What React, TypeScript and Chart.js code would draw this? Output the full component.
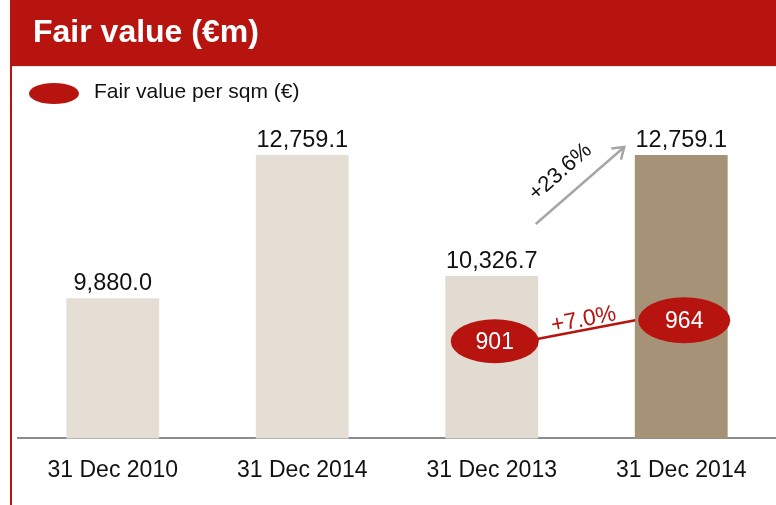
import { useEffect, useRef } from "react";
import { Chart, registerables } from "chart.js";

Chart.register(...registerables);

const categories = ["31 Dec 2010", "31 Dec 2014", "31 Dec 2013", "31 Dec 2014"];
const fairValues = [9880.0, 12759.1, 10326.7, 12759.1];
const valueLabels = ["9,880.0", "12,759.1", "10,326.7", "12,759.1"];
const perSqmValues: (number | null)[] = [null, null, 901, 964];
const barColors = ["#E4DED5", "#E4DED5", "#E2DBD1", "#A69377"];
const titleText = "Fair value (€m)";
const legendText = "Fair value per sqm (€)";
const growthFairValue = "+23.6%";
const growthPerSqm = "+7.0%";

const RED = "#B71410";
const FONT = "'Liberation Sans', Arial, sans-serif";

const decorPlugin = {
  id: "decor",
  beforeDraw(chart: any) {
    const ctx = chart.ctx as CanvasRenderingContext2D;
    ctx.save();
    ctx.fillStyle = "#FFFFFF";
    ctx.fillRect(0, 0, chart.width, chart.height);
    // header band
    ctx.fillStyle = RED;
    ctx.fillRect(10, 0, chart.width - 10, 66);
    ctx.fillStyle = "#E6E6E6";
    ctx.fillRect(12, 66, chart.width - 12, 1);
    // left red rule
    ctx.fillStyle = RED;
    ctx.fillRect(10, 66, 2, chart.height - 66);
    // title
    ctx.fillStyle = "#FFFFFF";
    ctx.font = `bold 32px ${FONT}`;
    ctx.textBaseline = "middle";
    ctx.textAlign = "left";
    ctx.fillText(titleText, 33, 33);
    // legend
    ctx.fillStyle = RED;
    ctx.beginPath();
    ctx.ellipse(54, 93.5, 25, 10.5, 0, 0, Math.PI * 2);
    ctx.fill();
    ctx.fillStyle = "#111111";
    ctx.font = `21px ${FONT}`;
    ctx.fillText(legendText, 94, 92);
    ctx.restore();
  },
  afterDatasetsDraw(chart: any) {
    const ctx = chart.ctx as CanvasRenderingContext2D;
    const bars = chart.getDatasetMeta(0).data;
    const pts = chart.getDatasetMeta(1).data;
    ctx.save();
    // value labels
    ctx.fillStyle = "#111111";
    ctx.font = `23.5px ${FONT}`;
    ctx.textAlign = "center";
    ctx.textBaseline = "alphabetic";
    bars.forEach((b: any, i: number) => {
      ctx.fillText(valueLabels[i], b.x, b.y - 8);
    });

    // grey growth arrow between bar 3 and bar 4
    const b3 = bars[2];
    const b4 = bars[3];
    const sx = b3.x + 44, sy = b3.y - 52;
    const ex = b4.x - 57, ey = b4.y - 8;
    const ang = Math.atan2(ey - sy, ex - sx);
    ctx.strokeStyle = "#A6A6A6";
    ctx.lineWidth = 2.5;
    ctx.lineCap = "butt";
    ctx.beginPath();
    ctx.moveTo(sx, sy);
    ctx.lineTo(ex, ey);
    ctx.stroke();
    ctx.beginPath();
    const ah = 13;
    ctx.moveTo(ex - ah * Math.cos(ang - 0.6), ey - ah * Math.sin(ang - 0.6));
    ctx.lineTo(ex, ey);
    ctx.lineTo(ex - ah * Math.cos(ang + 0.6), ey - ah * Math.sin(ang + 0.6));
    ctx.stroke();
    // arrow label
    const mx = (sx + ex) / 2, my = (sy + ey) / 2;
    const dx = Math.cos(ang), dy = Math.sin(ang);
    const nx = dy, ny = -dx; // up-left normal
    const tx = mx - 6 * dx + 23 * nx;
    const ty = my - 6 * dy + 23 * ny;
    ctx.save();
    ctx.translate(tx, ty);
    ctx.rotate(ang);
    ctx.fillStyle = "#111111";
    ctx.font = `22px ${FONT}`;
    ctx.textAlign = "center";
    ctx.textBaseline = "middle";
    ctx.fillText(growthFairValue, 0, 0);
    ctx.restore();

    // per sqm ellipses and connector
    const valid = pts
      .map((p: any, i: number) => ({ p, i }))
      .filter((o: any) => perSqmValues[o.i] !== null);
    const rxs = [44, 46];
    const rys = [22, 23];
    if (valid.length === 2) {
      const a = valid[0].p, c = valid[1].p;
      const x1 = a.x + rxs[0], y1 = a.y - 2;
      const x2 = c.x - rxs[1], y2 = c.y;
      ctx.strokeStyle = RED;
      ctx.lineWidth = 2.5;
      ctx.beginPath();
      ctx.moveTo(x1, y1);
      ctx.lineTo(x2, y2);
      ctx.stroke();
      const la = Math.atan2(y2 - y1, x2 - x1);
      const lmx = (x1 + x2) / 2, lmy = (y1 + y2) / 2;
      ctx.save();
      ctx.translate(lmx + 10 * Math.sin(la), lmy - 10 * Math.cos(la));
      ctx.rotate(la);
      ctx.fillStyle = RED;
      ctx.font = `23px ${FONT}`;
      ctx.textAlign = "center";
      ctx.textBaseline = "middle";
      ctx.fillText(growthPerSqm, 0, 0);
      ctx.restore();
    }
    valid.forEach((o: any, k: number) => {
      const p = o.p;
      ctx.fillStyle = RED;
      ctx.beginPath();
      ctx.ellipse(p.x + 3, p.y, rxs[k], rys[k], 0, 0, Math.PI * 2);
      ctx.fill();
      ctx.fillStyle = "#FFFFFF";
      ctx.font = `23px ${FONT}`;
      ctx.textAlign = "center";
      ctx.textBaseline = "middle";
      ctx.fillText(String(perSqmValues[o.i]), p.x + 3, p.y + 1);
    });
    ctx.restore();
  },
};

export default function App() {
  const ref = useRef<HTMLCanvasElement | null>(null);
  useEffect(() => {
    if (!ref.current) return;
    const chart = new Chart(ref.current, {
      type: "bar",
      data: {
        labels: categories,
        datasets: [
          {
            type: "bar",
            data: fairValues,
            backgroundColor: barColors,
            borderWidth: 0,
            categoryPercentage: 1,
            barPercentage: 0.49,
            yAxisID: "y",
            order: 2,
          } as any,
          {
            type: "line",
            data: perSqmValues,
            yAxisID: "y2",
            showLine: false,
            pointRadius: 0,
            borderWidth: 0,
            order: 1,
          } as any,
        ],
      },
      options: {
        responsive: false,
        animation: false,
        layout: { padding: { left: 18, right: 0, top: 100, bottom: 3 } },
        plugins: {
          legend: { display: false },
          title: { display: false },
          tooltip: { enabled: false },
        },
        scales: {
          x: {
            grid: { display: false, drawTicks: false },
            border: { display: true, color: "#8C8C8C", width: 2 },
            ticks: {
              color: "#111111",
              font: { family: FONT, size: 23 },
              padding: 18,
              maxRotation: 0,
              autoSkip: false,
            },
          },
          y: { display: false, min: 7060, max: 13866 },
          y2: { display: false, min: 610, max: 1624 },
        },
      },
      plugins: [decorPlugin],
    });
    return () => chart.destroy();
  }, []);
  return (
    <div style={{ position: "fixed", left: 0, top: 0, width: 776, height: 505 }}>
      <canvas ref={ref} width={776} height={505} style={{ display: "block" }} />
    </div>
  );
}
